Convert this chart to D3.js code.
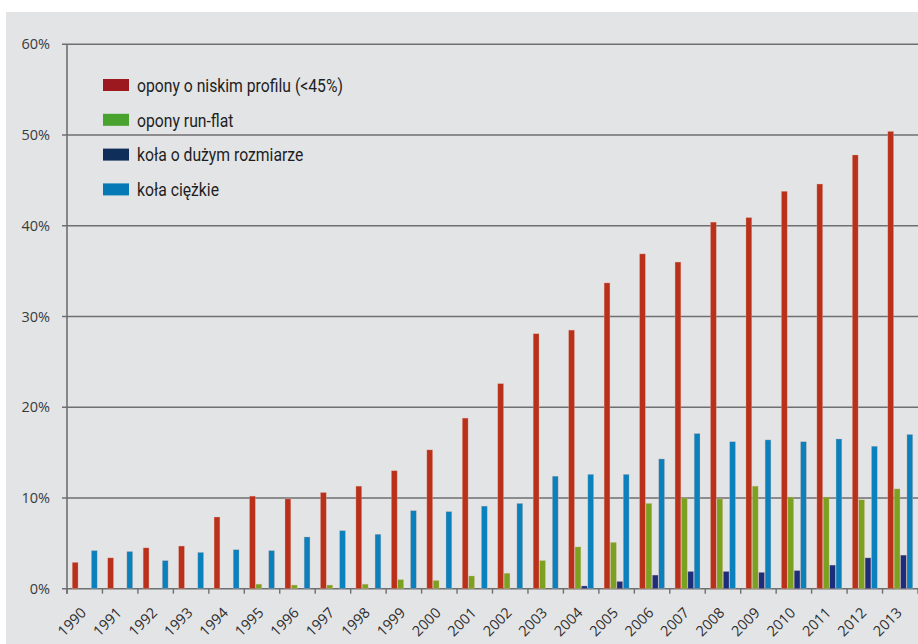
<!DOCTYPE html>
<meta charset="utf-8">
<script src="https://d3js.org/d3.v7.min.js"></script>
<style>
  body { margin: 0; background: #fff; }
</style>
<body>
<div id="chart"></div>
<script>

// data (percent)
var years = ["1990","1991","1992","1993","1994","1995","1996","1997","1998","1999","2000","2001",
             "2002","2003","2004","2005","2006","2007","2008","2009","2010","2011","2012","2013"];
var lowProfile = [2.9, 3.4, 4.5, 4.7, 7.9, 10.2, 9.9, 10.6, 11.3, 13.0, 15.3, 18.8,
                  22.6, 28.1, 28.5, 33.7, 36.9, 36.0, 40.4, 40.9, 43.8, 44.6, 47.8, 50.4];
var runFlat    = [0, 0, 0, 0, 0, 0.5, 0.4, 0.4, 0.5, 1.0, 0.9, 1.4,
                  1.7, 3.1, 4.6, 5.1, 9.4, 10.0, 9.9, 11.3, 10.1, 10.1, 9.8, 11.0];
var bigWheels  = [0, 0, 0, 0, 0, 0, 0, 0, 0, 0, 0, 0,
                  0, 0, 0.3, 0.8, 1.5, 1.9, 1.9, 1.8, 2.0, 2.6, 3.4, 3.7];
var heavyWheels = [4.2, 4.1, 3.1, 4.0, 4.3, 4.2, 5.7, 6.4, 6.0, 8.6, 8.5, 9.1,
                   9.4, 12.4, 12.6, 12.6, 14.3, 17.1, 16.2, 16.4, 16.2, 16.5, 15.7, 17.0];
var yTicks = [0, 10, 20, 30, 40, 50, 60];

var seriesNames = ["opony o niskim profilu (<45%)", "opony run-flat", "koła o dużym rozmiarze", "koła ciężkie"];
var barColors = ["#b9311a", "#7aa11f", "#1c2e7b", "#0a80bd"];
var legendColors = ["#9c1a1f", "#49a12e", "#0f2f5a", "#0479b5"];
var seriesValues = [lowProfile, runFlat, bigWheels, heavyWheels];

var W = 918, H = 644;
var margin = {top: 44.3, right: 0, bottom: 55.3, left: 67},
    width = W - margin.left - margin.right,
    height = H - margin.top - margin.bottom;

var svg = d3.select("#chart")
  .append("svg")
    .attr("width", W)
    .attr("height", H);

// grey panel
svg.append("rect")
  .attr("x", 6).attr("y", 12)
  .attr("width", W - 6).attr("height", H - 12)
  .attr("fill", "#e3e4e6");

var g = svg.append("g")
  .attr("transform", "translate(" + margin.left + "," + margin.top + ")");

var x0 = d3.scaleBand()
  .domain(years)
  .range([0, width])
  .paddingInner(0.28)
  .paddingOuter(0.14);

var x1 = d3.scaleBand()
  .domain(d3.range(seriesNames.length))
  .range([0, x0.bandwidth()]);

var y = d3.scaleLinear()
  .domain([0, 60])
  .range([height, 0]);

// gridlines + y labels
g.selectAll(".grid")
  .data(yTicks)
  .enter().append("line")
    .attr("x1", -5)
    .attr("x2", width)
    .attr("y1", function(d) { return y(d); })
    .attr("y2", function(d) { return y(d); })
    .attr("stroke", "#6f6f70")
    .attr("stroke-width", 1.6);

g.selectAll(".ylab")
  .data(yTicks)
  .enter().append("text")
    .attr("x", -17)
    .attr("y", function(d) { return y(d); })
    .attr("dy", "0.35em")
    .attr("text-anchor", "end")
    .style("font-family", "'Open Sans', sans-serif")
    .style("font-size", "14.5px")
    .attr("fill", "#3a3a3a")
    .text(function(d) { return d + "%"; });

// bars
var groups = g.selectAll(".year")
  .data(years)
  .enter().append("g")
    .attr("transform", function(d) { return "translate(" + x0(d) + ",0)"; });

groups.selectAll("rect")
  .data(function(d, i) { return seriesValues.map(function(s, k) { return {k: k, v: s[i]}; }); })
  .enter().append("rect")
    .filter(function(d) { return d.v > 0; })
    .attr("x", function(d) { return x1(d.k) + 0.3; })
    .attr("width", x1.bandwidth() - 0.6)
    .attr("y", function(d) { return y(d.v); })
    .attr("height", function(d) { return height - y(d.v); })
    .attr("fill", function(d) { return barColors[d.k]; })
    .attr("stroke", "#e8b7a8")
    .attr("stroke-opacity", 0.5)
    .attr("stroke-width", 0.6);

// y axis line
g.append("line")
  .attr("x1", 0).attr("x2", 0)
  .attr("y1", 0).attr("y2", height + 5)
  .attr("stroke", "#6f6f70")
  .attr("stroke-width", 1.6);

// x ticks at band boundaries
var step = x0.step();
g.selectAll(".xtick")
  .data(d3.range(years.length + 1))
  .enter().append("line")
    .attr("x1", function(d) { return d * step; })
    .attr("x2", function(d) { return d * step; })
    .attr("y1", height)
    .attr("y2", height + 5)
    .attr("stroke", "#6f6f70")
    .attr("stroke-width", 1.4);

// x labels
g.selectAll(".xlab")
  .data(years)
  .enter().append("text")
    .attr("text-anchor", "end")
    .attr("transform", function(d) {
      return "translate(" + (x0(d) + x0.bandwidth() / 2 + 2.5) + "," + (height + 25) + ") rotate(-45)";
    })
    .style("font-family", "'Open Sans', sans-serif")
    .style("font-size", "14.5px")
    .attr("fill", "#2e2e2e")
    .text(function(d) { return d; });

// legend (condensed look: Roboto squeezed horizontally)
var legend = svg.append("g")
  .attr("transform", "translate(103,79)");

var rows = legend.selectAll(".row")
  .data(seriesNames)
  .enter().append("g")
    .attr("transform", function(d, i) { return "translate(0," + (i * 34.8) + ")"; });

rows.append("rect")
  .attr("width", 26)
  .attr("height", 12)
  .attr("fill", function(d, i) { return legendColors[i]; });

var labels = rows.append("text")
  .attr("y", 6)
  .attr("dy", "0.36em")
  .style("font-family", "Roboto, sans-serif")
  .style("font-size", "19px")
  .attr("fill", "#1e1e1e")
  .text(function(d) { return d; });

var squeeze = 206 / labels.node().getComputedTextLength();
labels.attr("transform", "translate(34,0) scale(" + squeeze + ",1)");

</script>
</body>
</html>
